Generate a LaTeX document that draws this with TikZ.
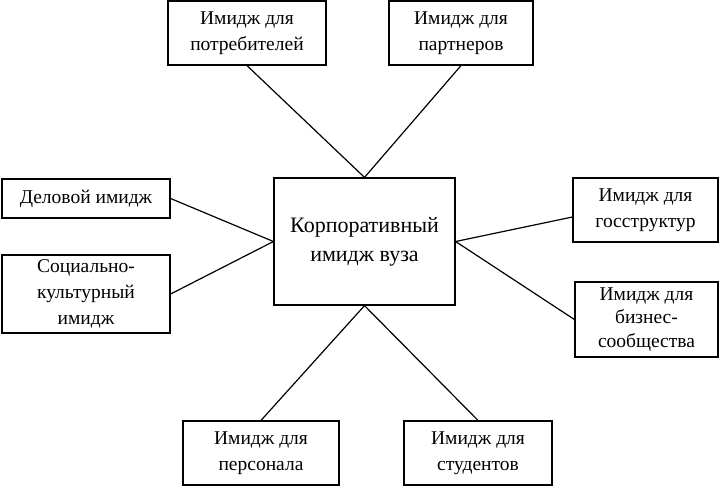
\documentclass[tikz,border=0pt]{standalone}
\usepackage{fontspec}
\setmainfont{Liberation Serif}
\begin{document}
\begin{tikzpicture}[x=1pt,y=-1pt,
  box/.style={draw,line width=1.2pt,rectangle,align=center,inner sep=2pt,
    font=\fontsize{19.5}{26}\selectfont},
  link/.style={line width=1.2pt}]
\useasboundingbox (0,0) rectangle (720,491);
\node[box,minimum width=158,minimum height=64] (tl) at (247,33) {Имидж для\\потребителей};
\node[box,minimum width=144,minimum height=64] (tr) at (461,33) {Имидж для\\партнеров};
\node[box,minimum width=181,minimum height=127,font=\fontsize{22}{29}\selectfont] (c) at (364.5,241.5) {Корпоративный\\имидж вуза};
\node[box,minimum width=168,minimum height=39] (dl) at (86,198.5) {Деловой имидж};
\node[box,minimum width=168,minimum height=78] (sk) at (86,294) {Социально-\\культурный\\имидж};
\node[box,minimum width=145,minimum height=64] (gs) at (645.5,210) {Имидж для\\госструктур};
\node[box,minimum width=143,minimum height=75,inner sep=0pt,font=\fontsize{19.5}{23.5}\selectfont] (bz) at (646.5,319.5) {Имидж для\\бизнес-\\сообщества};
\node[box,minimum width=156,minimum height=64] (pe) at (261,453) {Имидж для\\персонала};
\node[box,minimum width=148,minimum height=64] (st) at (478,453) {Имидж для\\студентов};
\draw[link] (tl.south) -- (c.north);
\draw[link] (tr.south) -- (c.north);
\draw[link] (dl.east) -- (c.west);
\draw[link] (sk.east) -- (c.west);
\draw[link] ([yshift=-7pt]gs.west) -- (c.east);
\draw[link] (bz.west) -- (c.east);
\draw[link] (pe.north) -- (c.south);
\draw[link] (st.north) -- (c.south);
\end{tikzpicture}
\end{document}
